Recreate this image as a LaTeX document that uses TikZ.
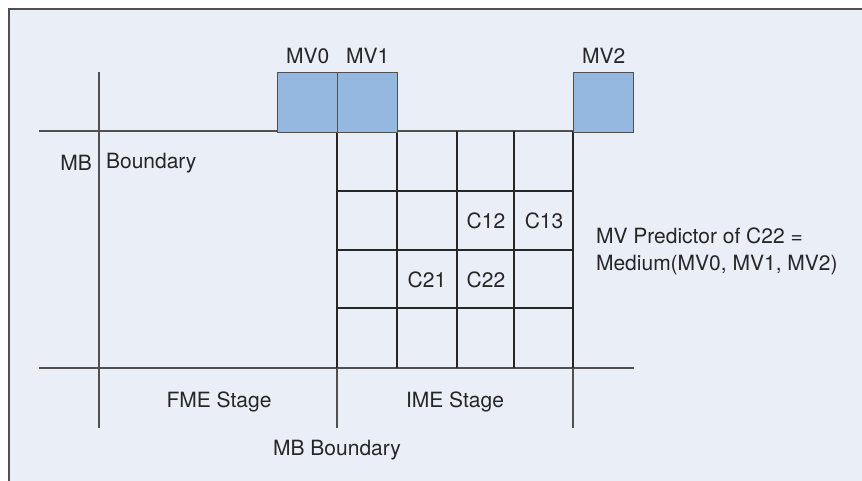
\documentclass[tikz,border=0pt]{standalone}
\usepackage{fontspec}
\setmainfont{TeX Gyre Heros}
\definecolor{panelbg}{RGB}{233,238,247}
\definecolor{mvblue}{RGB}{149,184,225}
\definecolor{rulegray}{RGB}{80,80,80}
\usetikzlibrary{positioning}

\begin{document}
\begin{tikzpicture}[x=0.5pt,y=-0.5pt,
    lbl/.style={font=\fontsize{10.5}{13.5}\selectfont, text=black!85},
    mvbox/.style={draw=rulegray, fill=mvblue, line width=0.6pt,
        minimum size=30pt, inner sep=0pt, anchor=north west},
    thinrule/.style={draw=rulegray, line width=0.6pt},
    gridrule/.style={draw=black!85, line width=0.9pt}]
    \useasboundingbox (0,0) rectangle (862,481);
    % panel
    \fill[panelbg] (9,9) rectangle (862,481);
    \draw[thinrule] (9,481) -- (9,9) -- (862,9);

    % boundary lines
    \draw[thinrule] (39,131) -- (573,131);
    \draw[thinrule] (39,368) -- (634,368);
    \draw[thinrule] (99,72) -- (99,428);
    \draw[thinrule] (337,368) -- (337,428);
    \draw[thinrule] (573,368) -- (573,428);

    % IME grid
    \foreach \x in {337,397,457,514,573}
        \draw[gridrule] (\x,131) -- (\x,368);
    \foreach \y in {191,250,308}
        \draw[gridrule] (337,\y) -- (573,\y);

    % neighbour MVs
    \node[mvbox] (mv0) at (277,72) {};
    \node[mvbox] (mv1) at (337,72) {};
    \node[mvbox] (mv2) at (573,72) {};
    \node[lbl, above=0.5pt of mv0] (mv0lbl) {MV0};
    \node[lbl, above=0.5pt of mv1] (mv1lbl) {MV1};
    \node[lbl, above=0.5pt of mv2] (mv2lbl) {MV2};

    % cells
    \node[lbl] (c12) at (486,221) {C12};
    \node[lbl] (c13) at (544,221) {C13};
    \node[lbl] (c21) at (427,280) {C21};
    \node[lbl] (c22) at (486,280) {C22};

    \node[lbl, anchor=east] (mb) at (99,163) {MB};
    \node[lbl, anchor=west] (bnd) at (99,163) {Boundary};
    \node[lbl, anchor=west, align=left] (pred) at (589,251)
        {MV Predictor of C22 =\\Medium(MV0, MV1, MV2)};
    \node[lbl] (fme) at (219,402) {FME Stage};
    \node[lbl] (ime) at (455,402) {IME Stage};
    \node[lbl] (mbb) at (337,450) {MB Boundary};
\end{tikzpicture}
\end{document}
